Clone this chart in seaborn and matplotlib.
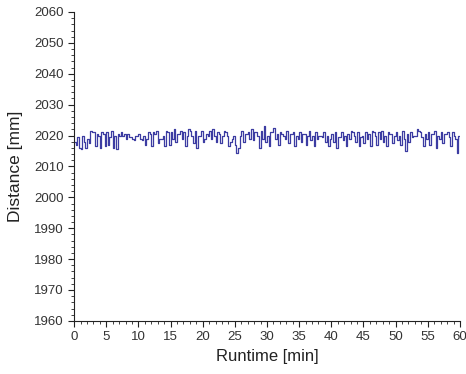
import numpy as np
import pandas as pd
import matplotlib.pyplot as plt
import seaborn as sns

# Distance readings, one every 0.25 min
d_00_05 = [2018, 2017, 2019.5, 2016, 2015.5, 2020, 2018, 2016, 2019, 2017.5,
           2021.5, 2021, 2021, 2016.5, 2020.5, 2020, 2016, 2021, 2020.5, 2016.5]
d_05_10 = [2021, 2017, 2019.5, 2021.5, 2016, 2020, 2015.5, 2020.5, 2020, 2021,
           2020, 2020.5, 2019, 2020.5, 2019.5, 2019.5, 2019, 2018.5, 2020, 2020]
d_10_15 = [2020.5, 2019, 2018.5, 2020, 2017, 2019, 2021, 2020.5, 2016.5, 2021,
           2020.5, 2021.5, 2017.5, 2019, 2019, 2020, 2016.5, 2021.5, 2021, 2017]
d_15_20 = [2021, 2019, 2022, 2018, 2020.5, 2020.5, 2021.5, 2019, 2021, 2016.5,
           2020, 2022, 2021.5, 2020, 2017.5, 2021.5, 2016, 2020, 2020, 2021.5]
d_20_25 = [2018, 2019, 2020.5, 2020, 2021.5, 2019, 2022, 2020, 2018, 2021,
           2020.5, 2017.5, 2020, 2021.5, 2021, 2020, 2016.5, 2018, 2019, 2020]
d_25_30 = [2017, 2014.5, 2016, 2020, 2021.5, 2018, 2020.5, 2020.5, 2021, 2019,
           2022, 2018.5, 2021, 2021, 2020, 2016, 2021.5, 2019, 2023, 2018]
d_30_35 = [2020, 2016.5, 2021, 2021, 2022.5, 2019, 2020.5, 2017, 2021, 2020.5,
           2020, 2019, 2021.5, 2017.5, 2020.5, 2020.5, 2021, 2016.5, 2020, 2019]
d_35_40 = [2021, 2018, 2020.5, 2020.5, 2017, 2020, 2021.5, 2018.5, 2020, 2016.5,
           2021, 2019, 2020, 2020, 2019.5, 2021, 2018, 2020, 2016.5, 2019]
d_40_45 = [2020.5, 2018, 2021, 2016, 2019.5, 2019.5, 2021, 2018.5, 2020, 2016.5,
           2020.5, 2019, 2021.5, 2021, 2020, 2018, 2021, 2016.5, 2019.5, 2020]
d_45_50 = [2017.5, 2021, 2019, 2020.5, 2016.5, 2021.5, 2021, 2020, 2017, 2021,
           2019, 2021.5, 2018, 2020, 2016.5, 2021, 2020.5, 2020.5, 2017.5, 2020]
d_50_55 = [2021, 2018.5, 2020, 2017, 2021.5, 2019, 2015, 2020.5, 2018, 2021,
           2019.5, 2020, 2020, 2022, 2021.5, 2021, 2019.5, 2016.5, 2020.5, 2019]
d_55_60 = [2021, 2017, 2020.5, 2020.5, 2021.5, 2016, 2020, 2019, 2021, 2017.5,
           2020.5, 2020.5, 2021, 2019.5, 2016.5, 2021, 2020, 2019, 2014.5, 2020, 2019]

distance = (d_00_05 + d_05_10 + d_10_15 + d_15_20 + d_20_25 + d_25_30
            + d_30_35 + d_35_40 + d_40_45 + d_45_50 + d_50_55 + d_55_60)
runtime = [i * 0.25 for i in range(len(distance))]

df = pd.DataFrame({"Runtime": runtime, "Distance": distance})

sns.set_style("ticks")
plt.rcParams["font.family"] = ["Liberation Sans", "DejaVu Sans"]

fig = plt.figure(figsize=(4.66, 3.74), dpi=100)
ax = fig.add_axes([0.159, 0.142, 0.828, 0.826])

sns.lineplot(data=df, x="Runtime", y="Distance", ax=ax, color="#3c3ca2",
             linewidth=0.9, drawstyle="steps-post")

ax.set_xlim(0, 60)
ax.set_ylim(1960, 2060)
ax.set_xticks(range(0, 61, 5))
ax.set_yticks(range(1960, 2061, 10))
ax.set_xticks(range(0, 61, 1), minor=True)
ax.set_yticks(range(1960, 2061, 2), minor=True)
ax.tick_params(axis="both", which="major", length=4, width=0.8, labelsize=9.5,
               colors="#222222", labelcolor="#333333")
ax.tick_params(axis="both", which="minor", length=2, width=0.6, colors="#222222")
ax.set_xlabel("Runtime [min]", fontsize=12, color="#222222", labelpad=4)
ax.set_ylabel("Distance [mm]", fontsize=12.5, color="#222222", labelpad=8)
sns.despine(ax=ax)
for s in ["left", "bottom"]:
    ax.spines[s].set_linewidth(0.8)
    ax.spines[s].set_color("#222222")

fig.savefig("out.png", dpi=100)
